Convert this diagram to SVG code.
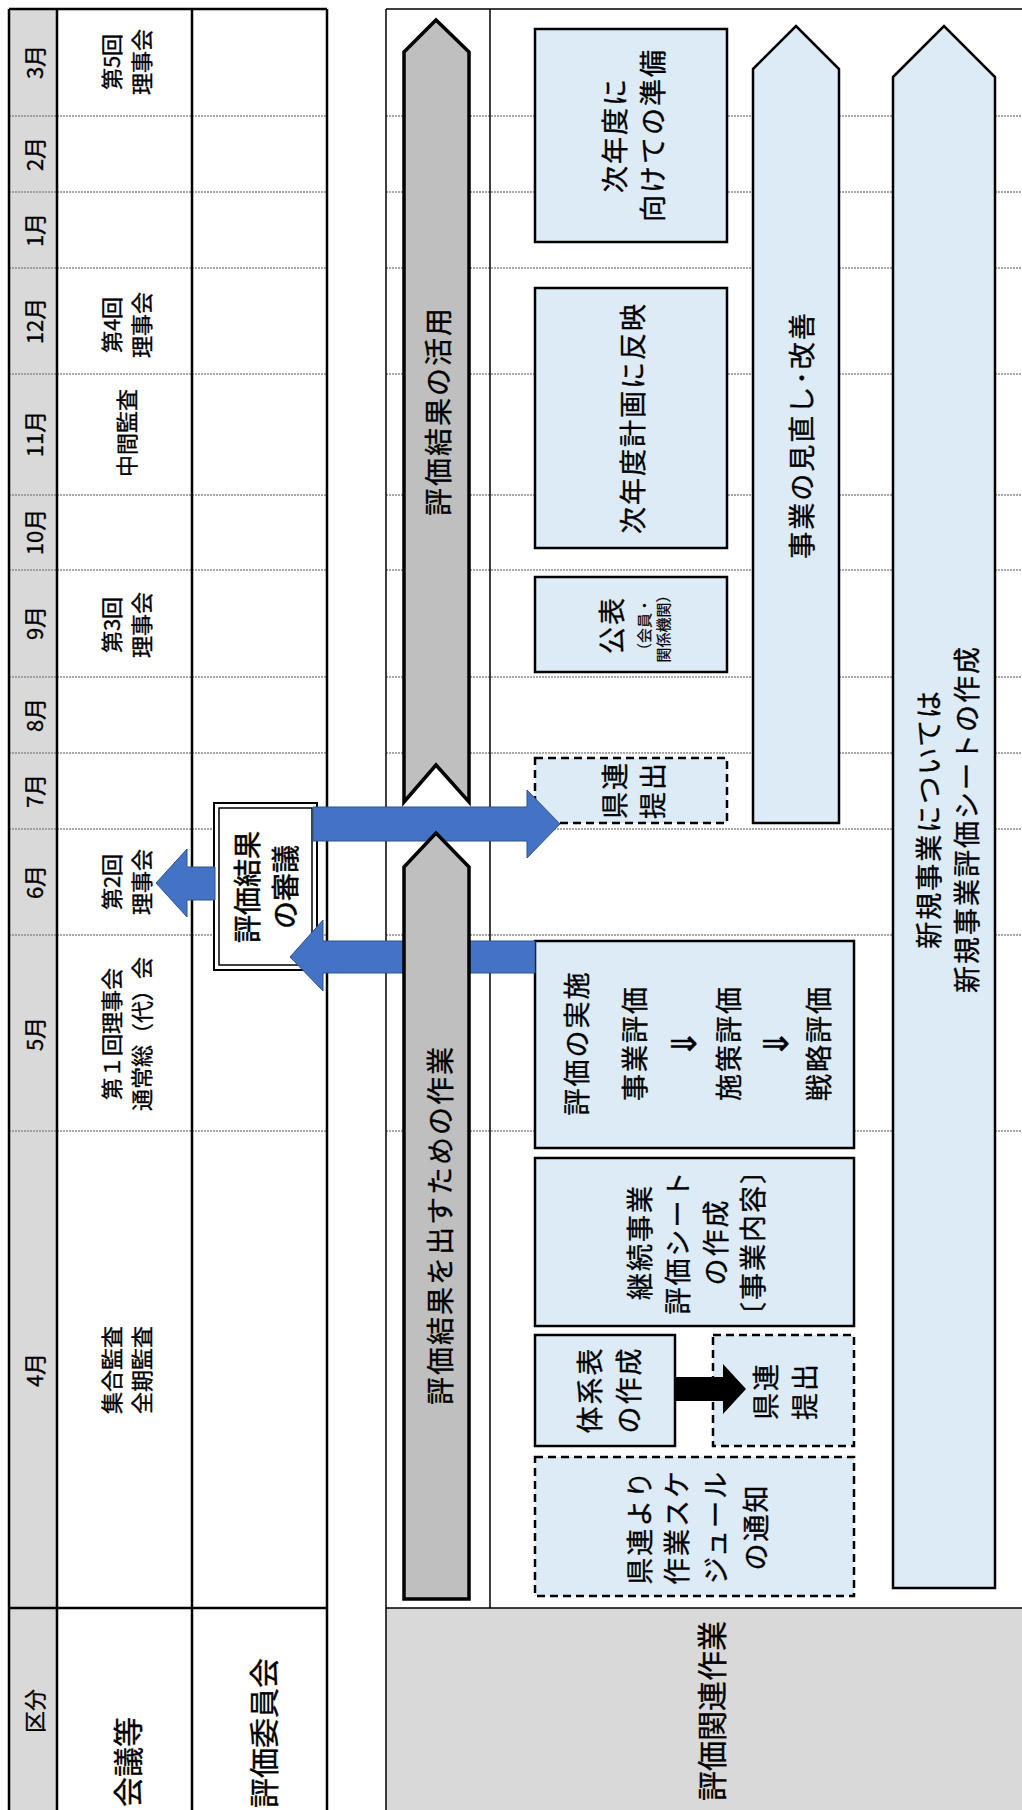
<svg xmlns="http://www.w3.org/2000/svg" width="1022" height="1810" viewBox="0 0 1022 1810">
<style>
text{font-family:"Noto Sans CJK JP","Noto Sans",sans-serif;fill:#000;text-anchor:middle;dominant-baseline:central;stroke:#000;stroke-width:0.35}
.m{font-size:22px}
.c{font-size:22px}
.b{font-size:27px;letter-spacing:2px}
.h{font-size:30px}
.s{font-size:15px;stroke-width:0.2}
.ar{font-size:34px;stroke-width:0.6}
.grid{stroke:#8c8c8c;stroke-width:1.5;stroke-dasharray:2 1;fill:none}
.lb{fill:#DDEBF7;stroke:#000;stroke-width:2.5}
.dash{fill:#DDEBF7;stroke:#000;stroke-width:2.5;stroke-dasharray:8 5}
.gray{fill:#BFBFBF;stroke:#000;stroke-width:3.5;stroke-linejoin:miter}
.blue{fill:#4472C4;stroke:#2F528F;stroke-width:1}
.tl{stroke:#000;stroke-width:2.5;fill:none}
</style>
<rect width="1022" height="1810" fill="#fff"/>
<g id="left-table">
<rect x="9" y="9" width="48" height="1801" fill="#D9D9D9"/>
<g class="grid">
<path d="M9 116H327M9 192H327M9 268H327M9 374H327M9 495H327M9 570H327M9 677H327M9 753H327M9 829H327M9 935H327M9 1131H327"/>
</g>
<path class="tl" d="M9 9H327M9 9V1810M57 9V1810M192 9V1810M327 9V1810M9 1608H327"/>
<g class="m">
<text transform="translate(33,62) rotate(-90)">3月</text>
<text transform="translate(33,154) rotate(-90)">2月</text>
<text transform="translate(33,230) rotate(-90)">1月</text>
<text transform="translate(33,321) rotate(-90)">12月</text>
<text transform="translate(33,434) rotate(-90)">11月</text>
<text transform="translate(33,532) rotate(-90)">10月</text>
<text transform="translate(33,623) rotate(-90)">9月</text>
<text transform="translate(33,715) rotate(-90)">8月</text>
<text transform="translate(33,791) rotate(-90)">7月</text>
<text transform="translate(33,882) rotate(-90)">6月</text>
<text transform="translate(33,1034) rotate(-90)">5月</text>
<text transform="translate(33,1370) rotate(-90)">4月</text>
<text transform="translate(33,1711) rotate(-90)">区分</text>
</g>
<g class="c">
<text transform="translate(110,62) rotate(-90)">第5回</text>
<text transform="translate(140,62) rotate(-90)">理事会</text>
<text transform="translate(110,325) rotate(-90)">第4回</text>
<text transform="translate(140,325) rotate(-90)">理事会</text>
<text transform="translate(125,433) rotate(-90)">中間監査</text>
<text transform="translate(110,625) rotate(-90)">第3回</text>
<text transform="translate(140,625) rotate(-90)">理事会</text>
<text transform="translate(110,882) rotate(-90)">第2回</text>
<text transform="translate(140,882) rotate(-90)">理事会</text>
<text transform="translate(110,1034) rotate(-90)">第１回理事会</text>
<text transform="translate(140,1034) rotate(-90)">通常総（代）会</text>
<text transform="translate(110,1370) rotate(-90)">集合監査</text>
<text transform="translate(140,1370) rotate(-90)">全期監査</text>
</g>
<text class="h" transform="translate(126,1762) rotate(-90)">会議等</text>
<text class="h" transform="translate(262,1733) rotate(-90)">評価委員会</text>
</g>
<g id="right-panel">
<rect x="386" y="1608" width="636" height="202" fill="#D9D9D9"/>
<g class="grid">
<path d="M386 116H1022M386 192H1022M386 268H1022M386 374H1022M386 495H1022M386 570H1022M386 677H1022M386 753H1022M386 829H1022M386 935H1022M386 1131H1022"/>
</g>
<path d="M386 9H1022M386 9V1810M490 9V1608M386 1608H1022" stroke="#000" stroke-width="1.5" fill="none"/>
<text class="h" transform="translate(710,1711) rotate(-90)">評価関連作業</text>
</g>
<g id="node-junbi">
<rect class="lb" x="535" y="29" width="192" height="213"/>
<text class="b" transform="translate(613,135) rotate(-90)">次年度に</text>
<text class="b" transform="translate(651,135) rotate(-90)">向けての準備</text>
</g>
<g id="node-hanei">
<rect class="lb" x="535" y="288" width="192" height="260"/>
<text class="b" transform="translate(631,418) rotate(-90)">次年度計画に反映</text>
</g>
<g id="node-kohyo">
<rect class="lb" x="535" y="577" width="192" height="95"/>
<text class="b" transform="translate(610,625) rotate(-90)">公表</text>
<text class="s" transform="translate(643,628) rotate(-90)">（会員・</text>
<text class="s" transform="translate(662,625) rotate(-90)">関係機関）</text>
</g>
<g id="node-kenren1">
<rect class="dash" x="535" y="758" width="192" height="65"/>
<text class="b" transform="translate(613,790) rotate(-90)">県連</text>
<text class="b" transform="translate(651,790) rotate(-90)">提出</text>
</g>
<g id="node-jisshi">
<rect class="lb" x="535" y="941" width="319" height="207"/>
<text class="b" transform="translate(575,1043) rotate(-90)">評価の実施</text>
<text class="b" transform="translate(633,1043) rotate(-90)">事業評価</text>
<text class="ar" transform="translate(681,1044) rotate(-90)">⇓</text>
<text class="b" transform="translate(727,1043) rotate(-90)">施策評価</text>
<text class="ar" transform="translate(773,1044) rotate(-90)">⇓</text>
<text class="b" transform="translate(817,1043) rotate(-90)">戦略評価</text>
</g>
<g id="node-keizoku">
<rect class="lb" x="535" y="1158" width="319" height="168"/>
<text class="b" transform="translate(638,1242) rotate(-90)">継続事業</text>
<text class="b" transform="translate(676,1242) rotate(-90)">評価シート</text>
<text class="b" transform="translate(714,1242) rotate(-90)">の作成</text>
<text class="b" transform="translate(751,1242) rotate(-90)">〔事業内容〕</text>
</g>
<g id="node-taikei">
<rect class="lb" x="535" y="1335" width="140" height="111"/>
<text class="b" transform="translate(588,1390) rotate(-90)">体系表</text>
<text class="b" transform="translate(627,1390) rotate(-90)">の作成</text>
</g>
<g id="node-kenren2">
<rect class="dash" x="713" y="1335" width="141" height="111"/>
<text class="b" transform="translate(764,1391) rotate(-90)">県連</text>
<text class="b" transform="translate(803,1391) rotate(-90)">提出</text>
</g>
<g id="node-tsuchi">
<rect class="dash" x="535" y="1457" width="319" height="139"/>
<text class="b" transform="translate(638,1527) rotate(-90)">県連より</text>
<text class="b" transform="translate(675,1527) rotate(-90)">作業スケ</text>
<text class="b" transform="translate(714,1527) rotate(-90)">ジュール</text>
<text class="b" transform="translate(754,1527) rotate(-90)">の通知</text>
</g>
<g id="node-minaoshi">
<path class="lb" d="M753 69L796 26L839 69V823H753Z"/>
<text class="b" transform="translate(800,435) rotate(-90)">事業の見直し･改善</text>
</g>
<g id="node-shinki">
<path class="lb" d="M893 77L944 26L995 77V1588H893Z"/>
<text class="b" transform="translate(927,819) rotate(-90)">新規事業については</text>
<text class="b" transform="translate(965,819) rotate(-90)">新規事業評価シートの作成</text>
</g>
<g id="node-shingi">
<rect x="214" y="803" width="103" height="167" fill="#fff" stroke="#000" stroke-width="2"/>
<rect x="219" y="808" width="93" height="157" fill="none" stroke="#000" stroke-width="1.5"/>
<text style="font-size:28px;stroke-width:0.5" transform="translate(246,887) rotate(-90)">評価結果</text>
<text style="font-size:28px;stroke-width:0.5" transform="translate(284,887) rotate(-90)">の審議</text>
</g>
<g id="connectors">
<path class="blue" d="M535 941H323V920L290 957L323 991V973H535Z"/>
<path class="blue" d="M313 807H527V790L560 824L527 858V841H313Z"/>
<path class="blue" d="M215 867H187V849L156 883L187 917V900H215Z"/>
<path d="M675 1377H723V1364L746 1389L723 1414V1401H675Z" fill="#000"/>
</g>
<g id="node-katsuyo">
<path class="gray" d="M404 52L436 20L469 52V802L436 765L404 802Z"/>
<text class="b" style="font-size:28px" transform="translate(437,411) rotate(-90)">評価結果の活用</text>
</g>
<g id="node-sagyo">
<path class="gray" d="M404 867L436 833L469 867V1599H404Z"/>
<text class="b" style="font-size:28px" transform="translate(439,1225) rotate(-90)">評価結果を出すための作業</text>
</g>
</svg>
